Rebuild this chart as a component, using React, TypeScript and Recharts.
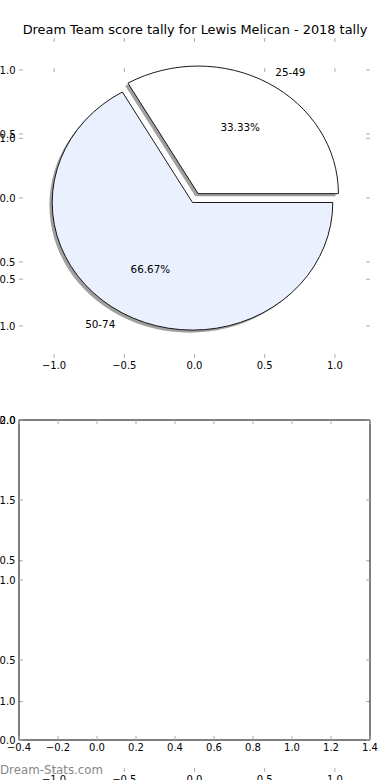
import React from 'react';
import { PieChart, Pie, Cell, ScatterChart, Scatter, XAxis, YAxis } from 'recharts';

// ---------- data ----------
const TITLE = 'Dream Team score tally for Lewis Melican - 2018 tally';
const WATERMARK = 'Dream-Stats.com';
const scoreBands = ['25-49', '50-74'];
const bandCounts = [1, 2];
const bandColors = ['#ffffff', '#eaf0fd'];
const bandExplode = [0.08, 0];

const pieAxisTicks = [-1, -0.5, 0, 0.5, 1];
const pieAxisDomain: [number, number] = [-1.25, 1.25];
const emptyXTicks = [-0.4, -0.2, 0, 0.2, 0.4, 0.6, 0.8, 1.0, 1.2, 1.4];
const emptyXDomain: [number, number] = [-0.4, 1.4];
const emptyYTicks = [0, 0.5, 1, 1.5, 2];
const emptyYDomain: [number, number] = [0, 2];

const pieData = scoreBands.map((name, i) => ({
  name,
  value: bandCounts[i],
  explode: bandExplode[i],
}));

// ---------- styling ----------
const FONT = 'DejaVu Sans';
const TICK_GREY = '#aaaaaa';
const TICK_LEN = 4;
const W = 390;
const H = 780;
const PLOT_LEFT = 19;
const PLOT_RIGHT = 370;
const AX = 1; // axis band thickness
const PIE_CX = 192.5;
const PIE_CY = 202.5;
const PIE_R = 140.3;
const ASPECT = 127.6 / 140.3;
const SHADOW_DX = -2.8;
const SHADOW_DY = 2.6;
const RAD = Math.PI / 180;

const fmt = (v: number) => (v < 0 ? '\u2212' : '') + Math.abs(v).toFixed(1);

type Side = 'left' | 'right' | 'top' | 'bottom';

function makeTick(side: Side, withLabel: boolean) {
  return (props: any) => {
    const { x, y, payload } = props;
    const v = payload?.value ?? 0;
    let line: React.ReactNode = null;
    let label: React.ReactNode = null;
    const textStyle = { fontFamily: FONT, fontSize: 10, fill: '#000' } as const;
    if (side === 'bottom') {
      line = <line x1={x} y1={y} x2={x} y2={y - TICK_LEN} stroke={TICK_GREY} strokeWidth={1} />;
      if (withLabel)
        label = (
          <text x={x} y={y + 11.4} textAnchor="middle" style={textStyle}>
            {fmt(v)}
          </text>
        );
    } else if (side === 'top') {
      line = <line x1={x} y1={y} x2={x} y2={y + TICK_LEN} stroke={TICK_GREY} strokeWidth={1} />;
    } else if (side === 'left') {
      line = <line x1={x} y1={y} x2={x + TICK_LEN} y2={y} stroke={TICK_GREY} strokeWidth={1} />;
      if (withLabel)
        label = (
          <text x={x - 3.5} y={y + 3.6} textAnchor="end" style={textStyle}>
            {fmt(v)}
          </text>
        );
    } else {
      line = <line x1={x} y1={y} x2={x - TICK_LEN} y2={y} stroke={TICK_GREY} strokeWidth={1} />;
    }
    return (
      <g>
        {line}
        {label}
      </g>
    );
  };
}

interface AxesProps {
  top: number;
  bottom: number;
  xDomain: [number, number];
  yDomain: [number, number];
  xTicks: number[];
  yTicks: number[];
  frame: boolean;
}

function Axes({ top, bottom, xDomain, yDomain, xTicks, yTicks, frame }: AxesProps) {
  const axisLine = frame ? { stroke: '#000', strokeWidth: 1 } : false;
  return (
    <div style={{ position: 'absolute', left: 0, top: 0 }}>
      <ScatterChart
        width={W}
        height={H}
        margin={{
          top: top - AX,
          bottom: H - bottom - AX,
          left: PLOT_LEFT - AX,
          right: W - PLOT_RIGHT - AX,
        }}
      >
        <XAxis
          xAxisId="b"
          orientation="bottom"
          type="number"
          dataKey="x"
          domain={xDomain}
          ticks={xTicks}
          interval={0}
          allowDataOverflow
          height={AX}
          tickSize={0}
          tickMargin={0}
          axisLine={axisLine}
          tickLine={false}
          tick={makeTick('bottom', true)}
        />
        <XAxis
          xAxisId="t"
          orientation="top"
          type="number"
          dataKey="x"
          domain={xDomain}
          ticks={xTicks}
          interval={0}
          allowDataOverflow
          height={AX}
          tickSize={0}
          tickMargin={0}
          axisLine={axisLine}
          tickLine={false}
          tick={makeTick('top', false)}
        />
        <YAxis
          yAxisId="l"
          orientation="left"
          type="number"
          dataKey="y"
          domain={yDomain}
          ticks={yTicks}
          interval={0}
          allowDataOverflow
          width={AX}
          tickSize={0}
          tickMargin={0}
          axisLine={axisLine}
          tickLine={false}
          tick={makeTick('left', true)}
        />
        <YAxis
          yAxisId="r"
          orientation="right"
          type="number"
          dataKey="y"
          domain={yDomain}
          ticks={yTicks}
          interval={0}
          allowDataOverflow
          width={AX}
          tickSize={0}
          tickMargin={0}
          axisLine={axisLine}
          tickLine={false}
          tick={makeTick('right', false)}
        />
        <Scatter xAxisId="b" yAxisId="l" data={[]} isAnimationActive={false} />
        <Scatter xAxisId="t" yAxisId="r" data={[]} isAnimationActive={false} />
      </ScatterChart>
    </div>
  );
}

function ellipseSector(cx: number, cy: number, rx: number, ry: number, a0: number, a1: number) {
  const p = (a: number) => [cx + rx * Math.cos(a * RAD), cy - ry * Math.sin(a * RAD)];
  const [x0, y0] = p(a0);
  const [x1, y1] = p(a1);
  const large = Math.abs(a1 - a0) > 180 ? 1 : 0;
  const sweep = a1 > a0 ? 0 : 1;
  return `M${cx},${cy} L${x0},${y0} A${rx},${ry} 0 ${large} ${sweep} ${x1},${y1} Z`;
}

const SliceShape = (props: any) => {
  const { cx, cy, outerRadius, startAngle, endAngle, fill, stroke, strokeWidth, payload } = props;
  const e = payload?.explode ?? props.explode ?? 0;
  const mid = (startAngle + endAngle) / 2;
  const rx = outerRadius;
  const ry = outerRadius * ASPECT;
  const ox = cx + e * rx * Math.cos(mid * RAD);
  const oy = cy - e * ry * Math.sin(mid * RAD);
  return (
    <path
      d={ellipseSector(ox, oy, rx, ry, startAngle, endAngle)}
      fill={fill}
      stroke={stroke}
      strokeWidth={strokeWidth}
      strokeLinejoin="miter"
    />
  );
};

const PieLabel = (props: any) => {
  const { cx, cy, outerRadius, startAngle, endAngle, percent, payload } = props;
  const e = payload?.explode ?? props.explode ?? 0;
  const name = payload?.name ?? props.name;
  const mid = (startAngle + endAngle) / 2;
  const rx = outerRadius;
  const ry = outerRadius * ASPECT;
  const c = Math.cos(mid * RAD);
  const s = Math.sin(mid * RAD);
  const bx = cx + e * rx * c;
  const by = cy - e * ry * s;
  const lx = bx + 1.1 * rx * c;
  const ly = by - 1.1 * ry * s;
  const px = bx + 0.6 * rx * c;
  const py = by - 0.6 * ry * s;
  const st = { fontFamily: FONT, fontSize: 10.4, fill: '#000' } as const;
  return (
    <g>
      <text x={lx} y={ly} dy="0.36em" textAnchor={c > 0 ? 'start' : 'end'} style={st}>
        {name}
      </text>
      <text x={px} y={py} dy="0.36em" textAnchor="middle" style={st}>
        {(percent * 100).toFixed(2) + '%'}
      </text>
    </g>
  );
};

export default function App() {
  return (
    <div
      style={{
        position: 'absolute',
        left: 0,
        top: 0,
        width: W,
        height: H,
        background: '#fff',
        overflow: 'hidden',
        fontFamily: FONT,
      }}
    >
      <svg width={W} height={50} style={{ position: 'absolute', left: 0, top: 0 }}>
        <text x={195} y={34} textAnchor="middle" style={{ fontFamily: FONT, fontSize: 12.9, fill: '#000' }}>
          {TITLE}
        </text>
      </svg>

      {/* empty full-height pie axes (ticks only) */}
      <Axes
        top={68}
        bottom={772}
        xDomain={pieAxisDomain}
        yDomain={pieAxisDomain}
        xTicks={pieAxisTicks}
        yTicks={pieAxisTicks}
        frame={false}
      />

      {/* lower empty framed axes */}
      <Axes
        top={420}
        bottom={740}
        xDomain={emptyXDomain}
        yDomain={emptyYDomain}
        xTicks={emptyXTicks}
        yTicks={emptyYTicks}
        frame={true}
      />

      {/* upper pie axes ticks */}
      <Axes
        top={38}
        bottom={358}
        xDomain={pieAxisDomain}
        yDomain={pieAxisDomain}
        xTicks={pieAxisTicks}
        yTicks={pieAxisTicks}
        frame={false}
      />

      <div style={{ position: 'absolute', left: 0, top: 0 }}>
        <PieChart width={W} height={400} margin={{ top: 0, right: 0, bottom: 0, left: 0 }}>
          <Pie
            data={pieData}
            dataKey="value"
            nameKey="name"
            cx={PIE_CX + SHADOW_DX}
            cy={PIE_CY + SHADOW_DY}
            outerRadius={PIE_R}
            innerRadius={0}
            startAngle={0}
            endAngle={360}
            isAnimationActive={false}
            stroke="none"
            label={false}
            labelLine={false}
            shape={SliceShape}
            activeShape={SliceShape}
            inactiveShape={SliceShape}
          >
            {pieData.map((d) => (
              <Cell key={'s' + d.name} fill="#a0a0a0" stroke="none" />
            ))}
          </Pie>
          <Pie
            data={pieData}
            dataKey="value"
            nameKey="name"
            cx={PIE_CX}
            cy={PIE_CY}
            outerRadius={PIE_R}
            innerRadius={0}
            startAngle={0}
            endAngle={360}
            isAnimationActive={false}
            stroke="#000"
            strokeWidth={0.9}
            label={PieLabel}
            labelLine={false}
            shape={SliceShape}
            activeShape={SliceShape}
            inactiveShape={SliceShape}
          >
            {pieData.map((d, i) => (
              <Cell key={'c' + d.name} fill={bandColors[i]} stroke="#000" strokeWidth={0.9} />
            ))}
          </Pie>
        </PieChart>
      </div>

      <svg width={W} height={H} style={{ position: 'absolute', left: 0, top: 0, pointerEvents: 'none' }}>
        <text x={0} y={774} style={{ fontFamily: FONT, fontSize: 11.8, fill: '#888888' }}>
          {WATERMARK}
        </text>
      </svg>
    </div>
  );
}
